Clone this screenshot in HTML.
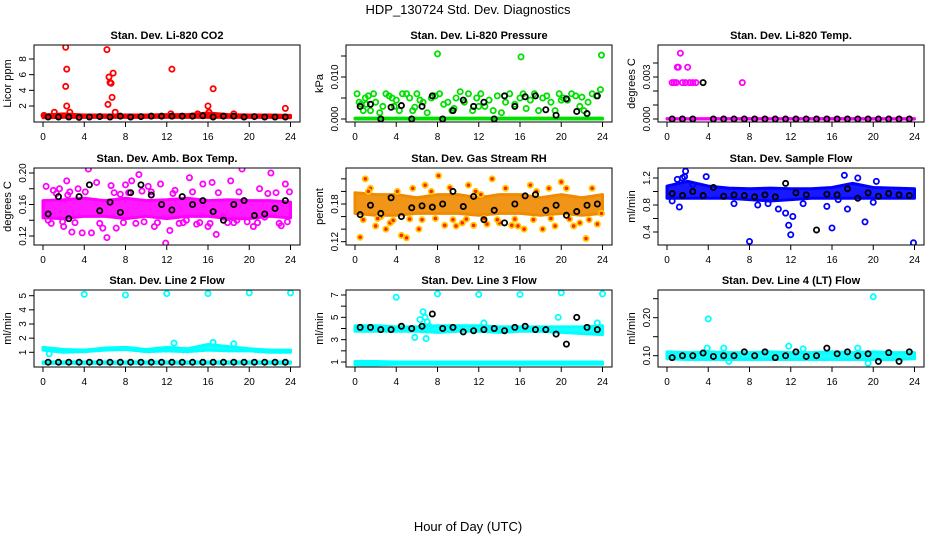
<!DOCTYPE html>
<html><head><meta charset="utf-8"><style>
body{margin:0;background:#fff;}
svg{display:block;font-family:"Liberation Sans",sans-serif;}
</style></head><body>
<svg id="chart" width="936" height="540" viewBox="0 0 936 540" xmlns="http://www.w3.org/2000/svg">
<text x="468" y="14" font-size="13" text-anchor="middle">HDP_130724  Std. Dev. Diagnostics</text>
<text x="468" y="531" font-size="13" text-anchor="middle">Hour of Day (UTC)</text>
</svg>
<script>
const hourTicks = [0,4,8,12,16,20,24];
const blackHours = [0.5,1.5,2.5,3.5,4.5,5.5,6.5,7.5,8.5,9.5,10.5,11.5,12.5,13.5,14.5,15.5,16.5,17.5,18.5,19.5,20.5,21.5,22.5,23.5];
const bandHours = [0,2,4,6,8,10,12,14,16,18,20,22,24];

// Panel 1: CO2
const p1Ticks = [2,4,6,8];
const p1Labels = ["2","4","6","8"];
const p1BandLo = [0.5,0.55,0.55,0.55,0.55,0.55,0.55,0.55,0.55,0.55,0.55,0.55,0.5];
const p1BandHi = [0.85,1.0,0.85,0.85,0.85,0.85,0.9,0.9,1.1,0.9,0.85,0.85,0.8];
const p1PtsX = [0.1,1.1,2.2,2.3,2.2,2.3,2.6,6.2,6.4,6.5,6.6,6.8,6.7,6.3,7.0,12.5,12.4,16.0,16.5,16.1,23.5,15,18.5];
const p1PtsY = [0.8,1.2,9.5,6.7,4.5,2.0,1.2,9.2,5.7,5.0,4.9,6.2,3.1,2.2,1.2,6.7,1.0,2.0,4.2,1.2,1.7,1.0,1.0];
const p1Black = [0.6,0.6,0.6,0.55,0.6,0.65,0.6,0.7,0.6,0.65,0.7,0.7,0.7,0.7,0.7,0.75,0.6,0.7,0.7,0.6,0.65,0.6,0.6,0.6];

// Panel 2: Pressure
const p2Ticks = [0,0.005,0.010,0.015];
const p2Labels = ["0.000","","0.010",""];
const p2BandLo = [0,0,0,0,0,0,0,0,0,0,0,0,0];
const p2BandHi = [0.0002,0.0002,0.0002,0.0002,0.0002,0.0002,0.0002,0.0002,0.0002,0.0002,0.0002,0.0002,0.0002];
const p2PtsX = [0.2,0.4,0.6,0.8,1.0,1.3,1.5,1.8,2.0,2.4,2.7,3.0,3.3,3.6,4.0,4.3,4.6,5.0,5.3,5.6,6.0,6.3,6.6,7.0,7.4,7.8,8.2,8.6,9.0,9.4,9.8,10.2,10.6,11.0,11.4,11.8,12.2,12.6,13.0,13.4,13.8,14.2,14.6,15.0,16.0,16.3,16.6,17.0,17.4,17.8,18.2,18.6,19.0,19.4,19.8,20.2,20.6,21.0,21.4,21.8,22.2,22.6,23.0,23.4,23.8,8.0,16.1,23.9,1.1,3.8,5.8,9.6,12.0,15.5,20.0,22.0];
const p2PtsY = [0.006,0.004,0.0035,0.002,0.005,0.0055,0.002,0.006,0.004,0.0015,0.003,0.006,0.0055,0.005,0.0045,0.002,0.006,0.006,0.005,0.002,0.006,0.0045,0.004,0.0015,0.005,0.0055,0.006,0.0035,0.004,0.002,0.005,0.0065,0.004,0.006,0.002,0.005,0.006,0.003,0.0045,0.002,0.0055,0.0015,0.004,0.006,0.005,0.006,0.0025,0.0045,0.006,0.002,0.005,0.0055,0.004,0.002,0.006,0.005,0.0045,0.006,0.0055,0.003,0.002,0.004,0.006,0.0055,0.007,0.0155,0.0148,0.0152,0.0035,0.003,0.0028,0.0025,0.003,0.0035,0.0045,0.0052];
const p2Black = [0.003,0.0035,0,0.0028,0.0032,0,0.003,0.0055,0,0.002,0.0045,0.003,0.004,0,0.0055,0.003,0.0053,0.0055,0.0022,0.0009,0.0048,0.0018,0.0013,0.0055];

// Panel 3: Temp
const p3Ticks = [0,0.001,0.002,0.003,0.004];
const p3Labels = ["0.000","","","0.003",""];
const p3BandLo = [0,0,0,0,0,0,0,0,0,0,0,0,0];
const p3BandHi = [0.00003,0.00003,0.00003,0.00003,0.00003,0.00003,0.00003,0.00003,0.00003,0.00003,0.00003,0.00003,0.00003];
const p3PtsX = [0.5,0.7,0.9,1.0,1.1,1.3,1.5,1.8,2.0,2.2,2.5,2.8,7.3];
const p3PtsY = [0.0026,0.0026,0.0026,0.0037,0.0037,0.0047,0.0026,0.0026,0.0037,0.0026,0.0026,0.0026,0.0026];
const p3Black = [0,0,0,0.0026,0,0,0,0,0,0,0,0,0,0,0,0,0,0,0,0,0,0,0,0];

// Panel 4: Amb Box Temp
const p4Ticks = [0.12,0.14,0.16,0.18,0.20];
const p4Labels = ["0.12","","0.16","","0.20"];
const p4BandLo = [0.143,0.142,0.145,0.145,0.142,0.145,0.142,0.145,0.145,0.142,0.142,0.145,0.143];
const p4BandHi = [0.165,0.166,0.168,0.165,0.168,0.165,0.166,0.168,0.165,0.166,0.165,0.165,0.163];
const p4PtsX = [0.3,0.5,1.0,1.6,2.0,2.3,2.8,3.4,3.8,4.4,4.7,5.2,5.8,6.2,6.6,7.1,7.5,8.0,8.6,9.3,9.8,10.2,10.8,11.4,11.9,12.3,12.8,13.6,14.2,14.9,15.5,16.0,16.4,16.8,17.5,18.2,18.8,19.3,19.8,20.4,21.0,21.5,22.1,22.6,23.1,23.5,23.9,0.8,1.3,2.6,3.1,4.1,5.5,6.9,7.8,8.3,9.0,10.5,11.1,12.6,13.2,14.5,15.2,17.0,17.9,19.0,20.8,21.8,22.9,23.7,1.9,9.6,16.2,18.5,2.4,13.9];
const p4PtsY = [0.183,0.14,0.178,0.18,0.132,0.19,0.125,0.18,0.124,0.205,0.124,0.188,0.13,0.118,0.184,0.13,0.173,0.185,0.19,0.198,0.138,0.183,0.132,0.186,0.111,0.127,0.178,0.137,0.194,0.135,0.186,0.132,0.188,0.122,0.144,0.19,0.14,0.205,0.138,0.132,0.18,0.144,0.2,0.175,0.133,0.186,0.176,0.136,0.174,0.176,0.137,0.176,0.136,0.175,0.137,0.175,0.136,0.176,0.137,0.174,0.136,0.176,0.137,0.175,0.137,0.176,0.137,0.174,0.136,0.138,0.138,0.177,0.136,0.137,0.172,0.14];
const p4Black = [0.148,0.17,0.142,0.17,0.185,0.152,0.163,0.15,0.175,0.185,0.172,0.16,0.153,0.17,0.16,0.165,0.151,0.14,0.16,0.165,0.146,0.148,0.155,0.165];

// Panel 5: Gas Stream RH
const p5Ticks = [0.12,0.14,0.16,0.18,0.20,0.22];
const p5Labels = ["0.12","","","0.18","",""];
const p5BandLo = [0.165,0.162,0.162,0.165,0.165,0.165,0.162,0.165,0.165,0.162,0.165,0.162,0.165];
const p5BandHi = [0.198,0.195,0.195,0.19,0.195,0.195,0.19,0.195,0.195,0.19,0.195,0.19,0.195];
const p5PtsX = [0.5,1.0,1.5,2.0,2.5,3.0,3.4,4.1,4.5,5.0,5.6,6.2,6.8,7.4,8.1,8.7,9.2,9.8,10.4,11.0,11.5,12.2,12.8,13.3,14.0,14.6,15.2,15.8,16.4,17.0,17.6,18.2,18.8,19.4,20.0,20.5,21.2,21.8,22.4,23.0,23.5,23.9,0.8,2.2,3.7,5.3,6.5,7.8,9.5,10.8,12.5,13.8,15.5,17.3,19.0,20.8,22.7,1.3,11.7];
const p5PtsY = [0.127,0.22,0.205,0.145,0.16,0.14,0.15,0.2,0.13,0.126,0.205,0.14,0.21,0.2,0.225,0.146,0.206,0.145,0.15,0.21,0.146,0.195,0.148,0.22,0.15,0.205,0.146,0.145,0.14,0.21,0.2,0.14,0.205,0.145,0.215,0.205,0.145,0.15,0.125,0.205,0.148,0.165,0.155,0.157,0.154,0.156,0.155,0.157,0.155,0.156,0.157,0.155,0.156,0.155,0.157,0.156,0.155,0.2,0.2];
const p5Black = [0.163,0.178,0.165,0.19,0.16,0.174,0.177,0.175,0.18,0.2,0.176,0.192,0.155,0.17,0.15,0.18,0.193,0.195,0.17,0.178,0.162,0.168,0.178,0.18];

// Panel 6: Sample Flow
const p6Ticks = [0.4,0.6,0.8,1.0,1.2];
const p6Labels = ["0.4","","0.8","","1.2"];
const p6BandLo = [0.9,0.9,0.9,0.9,0.88,0.86,0.88,0.9,0.9,0.9,0.9,0.9,0.9];
const p6BandHi = [1.08,1.15,1.08,1.05,1.04,1.05,1.04,1.04,1.06,1.12,1.06,1.05,1.04];
const p6PtsX = [0.5,1.2,1.8,1.7,1.5,2.5,3.8,6.5,8.0,8.8,9.8,10.8,11.5,11.8,12.0,12.2,13.2,15.5,16.0,16.6,17.2,17.5,18.5,19.2,20.0,20.3,23.9,1.0];
const p6PtsY = [0.86,0.77,1.3,1.22,1.2,1.1,1.22,0.82,0.26,0.8,0.82,0.74,0.68,0.5,0.36,0.63,0.82,0.78,0.46,0.88,1.24,0.74,1.2,0.55,0.84,1.15,0.24,1.18];
const p6Black = [0.97,0.94,1.0,0.94,1.06,0.93,0.95,0.94,0.92,0.95,0.92,1.12,0.98,0.95,0.43,0.96,0.95,1.04,0.9,0.98,0.93,0.97,0.95,0.94];

// Panel 7: Line 2 Flow
const p7Ticks = [1,2,3,4,5];
const p7Labels = ["1","2","3","4","5"];
const p7BandLo = [1.15,1.0,1.05,1.15,1.2,1.05,1.1,1.05,1.15,1.1,1.1,1.0,1.0];
const p7BandHi = [1.35,1.2,1.15,1.3,1.35,1.2,1.35,1.25,1.55,1.4,1.25,1.15,1.15];
const p7Band2Lo = [0.22,0.22,0.22,0.22,0.22,0.22,0.22,0.22,0.22,0.22,0.22,0.22,0.22];
const p7Band2Hi = [0.32,0.32,0.32,0.32,0.32,0.32,0.32,0.32,0.32,0.32,0.32,0.32,0.32];
const p7PtsX = [4,8,12,16,20,24,0.6,12.7,16.5,18.5];
const p7PtsY = [5.1,5.05,5.15,5.15,5.2,5.2,0.9,1.65,1.7,1.6];
const p7Black = [0.3,0.3,0.3,0.3,0.3,0.3,0.3,0.3,0.3,0.3,0.3,0.3,0.3,0.3,0.3,0.3,0.3,0.3,0.3,0.3,0.3,0.3,0.3,0.3];

// Panel 8: Line 3 Flow
const p8Ticks = [1,2,3,4,5,6,7];
const p8Labels = ["1","","3","","5","","7"];
const p8BandLo = [3.75,3.75,3.75,3.75,3.65,3.75,3.75,3.65,3.75,3.75,3.65,3.55,3.45];
const p8BandHi = [4.25,4.25,4.15,4.15,4.25,4.25,4.25,4.15,4.15,4.15,4.15,4.15,4.25];
const p8Band2Lo = [0.75,0.75,0.8,0.8,0.8,0.8,0.8,0.8,0.8,0.8,0.8,0.8,0.8];
const p8Band2Hi = [1.05,1.05,1.0,1.0,1.0,1.0,1.0,1.0,1.0,1.0,1.0,1.0,1.0];
const p8PtsX = [4,8,12,16,20,24,5.8,6.3,6.6,6.8,7.0,7.2,6.9,12.5,19.7,23.5];
const p8PtsY = [6.8,7.1,7.05,7.05,7.2,7.1,3.2,4.8,5.5,5.0,4.6,4.2,3.1,4.5,5.0,4.5];
const p8Black = [4.1,4.1,3.9,3.9,4.2,4.0,4.2,5.3,4.0,4.1,3.7,3.8,3.9,4.0,3.8,4.1,4.2,3.9,3.9,3.5,2.6,5.0,4.1,3.9];

// Panel 9: Line 4 (LT) Flow
const p9Ticks = [0.10,0.15,0.20,0.25];
const p9Labels = ["0.10","","0.20",""];
const p9BandLo = [0.092,0.09,0.09,0.09,0.09,0.09,0.09,0.09,0.09,0.09,0.09,0.09,0.092];
const p9BandHi = [0.11,0.108,0.11,0.108,0.108,0.11,0.108,0.108,0.11,0.108,0.11,0.108,0.108];
const p9PtsX = [4,12,20,3.9,11.8,18.5,6.0,19.5,13.2,5.5];
const p9PtsY = [0.197,0.28,0.255,0.12,0.125,0.12,0.085,0.08,0.118,0.12];
const p9Black = [0.095,0.1,0.1,0.107,0.098,0.1,0.1,0.11,0.1,0.11,0.095,0.1,0.11,0.098,0.1,0.12,0.105,0.11,0.1,0.105,0.085,0.108,0.085,0.11];

const svg = document.getElementById('chart');
const NS = 'http://www.w3.org/2000/svg';
function el(tag, attrs){const e=document.createElementNS(NS,tag);for(const k in attrs)e.setAttribute(k,attrs[k]);return e;}

const colOff = [0,312,624];
const rowTop = [45,168,290];
const BOX_H = 77;

const panels = [
 {title:'Stan. Dev. Li-820 CO2',ylab:'Licor ppm',col:0,row:0,color:'#ff0000',v0:2,y0:106,v1:8,y1:59,ticks:p1Ticks,labels:p1Labels,bandLo:p1BandLo,bandHi:p1BandHi,px:p1PtsX,py:p1PtsY,black:p1Black,name:'co2'},
 {title:'Stan. Dev. Li-820 Pressure',ylab:'kPa',col:1,row:0,color:'#00e000',v0:0,y0:119,v1:0.010,y1:77,ticks:p2Ticks,labels:p2Labels,bandLo:p2BandLo,bandHi:p2BandHi,px:p2PtsX,py:p2PtsY,black:p2Black,name:'pressure'},
 {title:'Stan. Dev. Li-820 Temp.',ylab:'degrees C',col:2,row:0,color:'#ff00ff',v0:0,y0:119,v1:0.003,y1:77,ticks:p3Ticks,labels:p3Labels,bandLo:p3BandLo,bandHi:p3BandHi,px:p3PtsX,py:p3PtsY,black:p3Black,name:'temp'},
 {title:'Stan. Dev. Amb. Box Temp.',ylab:'degrees C',col:0,row:1,color:'#ff00ff',v0:0.12,y0:236,v1:0.20,y1:173,ticks:p4Ticks,labels:p4Labels,bandLo:p4BandLo,bandHi:p4BandHi,px:p4PtsX,py:p4PtsY,black:p4Black,name:'amb-temp'},
 {title:'Stan. Dev. Gas Stream RH',ylab:'percent',col:1,row:1,color:'#ffc800',band:'#f08a00',col2:'#ff2000',v0:0.12,y0:241.7,v1:0.18,y1:204,ticks:p5Ticks,labels:p5Labels,bandLo:p5BandLo,bandHi:p5BandHi,px:p5PtsX,py:p5PtsY,black:p5Black,name:'rh'},
 {title:'Stan. Dev. Sample Flow',ylab:'ml/min',col:2,row:1,color:'#0000ff',v0:0.4,y0:232,v1:1.2,y1:178,ticks:p6Ticks,labels:p6Labels,bandLo:p6BandLo,bandHi:p6BandHi,px:p6PtsX,py:p6PtsY,black:p6Black,name:'sample-flow'},
 {title:'Stan. Dev. Line 2 Flow',ylab:'ml/min',col:0,row:2,color:'#00ffff',v0:1,y0:352.3,v1:5,y1:295.7,ticks:p7Ticks,labels:p7Labels,bandLo:p7BandLo,bandHi:p7BandHi,band2Lo:p7Band2Lo,band2Hi:p7Band2Hi,px:p7PtsX,py:p7PtsY,black:p7Black,name:'line2'},
 {title:'Stan. Dev. Line 3 Flow',ylab:'ml/min',col:1,row:2,color:'#00ffff',v0:1,y0:362,v1:7,y1:295,ticks:p8Ticks,labels:p8Labels,bandLo:p8BandLo,bandHi:p8BandHi,band2Lo:p8Band2Lo,band2Hi:p8Band2Hi,px:p8PtsX,py:p8PtsY,black:p8Black,name:'line3'},
 {title:'Stan. Dev. Line 4 (LT) Flow',ylab:'ml/min',col:2,row:2,color:'#00ffff',v0:0.10,y0:355.7,v1:0.20,y1:317.7,ticks:p9Ticks,labels:p9Labels,bandLo:p9BandLo,bandHi:p9BandHi,px:p9PtsX,py:p9PtsY,black:p9Black,name:'line4'}
];

panels.forEach(p=>{
  const off = colOff[p.col];
  const left = 34+off, right = 300+off, top = rowTop[p.row], bot = top+BOX_H;
  const xs = h => 43+off + h*(247.5/24);
  const ys = v => p.y0 + (v-p.v0)*(p.y1-p.y0)/(p.v1-p.v0);
  const g = el('g',{});
  
  
  svg.appendChild(g);
  const clipId='clip-'+p.name;
  const cp=el('clipPath',{id:clipId}); cp.appendChild(el('rect',{x:left,y:top,width:right-left,height:BOX_H})); g.appendChild(cp);
  const t = el('text',{x:(left+right)/2,y:top-6,'font-size':'11','font-weight':'bold','text-anchor':'middle'});
  t.textContent=p.title;
  
  
  g.appendChild(t);
  const yl = el('text',{x:0,y:0,'font-size':'11','text-anchor':'middle',transform:`translate(${off+11},${top+BOX_H/2}) rotate(-90)`});
  yl.textContent=p.ylab;
  
  
  g.appendChild(yl);
  const plot = el('g',{'clip-path':`url(#${clipId})`});
  
  
  g.appendChild(plot);
  const bandColor = p.band || p.color;
  function drawBand(lo,hi,nm){
    let pts=[];
    bandHours.forEach((h,i)=>pts.push(xs(h)+','+ys(hi[i])));
    for(let i=bandHours.length-1;i>=0;i--) pts.push(xs(bandHours[i])+','+ys(lo[i]));
    const b = el('polygon',{points:pts.join(' '),fill:bandColor,'fill-opacity':'0.9',stroke:bandColor,'stroke-width':'3','stroke-linejoin':'round'});
    
    
    plot.appendChild(b);
  }
  drawBand(p.bandLo,p.bandHi,p.name+'-dense-band');
  if(p.band2Lo) drawBand(p.band2Lo,p.band2Hi,p.name+'-dense-band-low');
  p.px.forEach((h,i)=>{
    const c = el('circle',{cx:xs(h),cy:ys(p.py[i]),r:2.6,fill:p.col2?p.col2:'none',stroke:p.color,'stroke-width':'1.8'});
    
    
    plot.appendChild(c);
  });
  blackHours.forEach((h,i)=>{
    const c = el('circle',{cx:xs(h),cy:ys(p.black[i]),r:2.6,fill:'none',stroke:'#000','stroke-width':'1.8'});
    
    
    plot.appendChild(c);
  });
  const box = el('rect',{x:left,y:top,width:right-left,height:BOX_H,fill:'none',stroke:'#000','stroke-width':'1'});
  
  
  g.appendChild(box);
  hourTicks.forEach(h=>{
    g.appendChild(el('line',{x1:xs(h),x2:xs(h),y1:bot,y2:bot+5,stroke:'#000'}));
    const tl=el('text',{x:xs(h),y:bot+18,'font-size':'10','text-anchor':'middle'});
    tl.textContent=String(h);
    
    
    g.appendChild(tl);
  });
  g.appendChild(el('line',{x1:xs(0),x2:xs(24),y1:bot,y2:bot,stroke:'#000'}));
  p.ticks.forEach((v,i)=>{
    const y=ys(v);
    g.appendChild(el('line',{x1:left-5,x2:left,y1:y,y2:y,stroke:'#000'}));
    if(p.labels[i]){
      const tl=el('text',{x:0,y:0,'font-size':'10','text-anchor':'middle',transform:`translate(${left-8},${y}) rotate(-90)`});
      tl.textContent=p.labels[i];
      
      
      g.appendChild(tl);
    }
  });
});
</script>
</body></html>
